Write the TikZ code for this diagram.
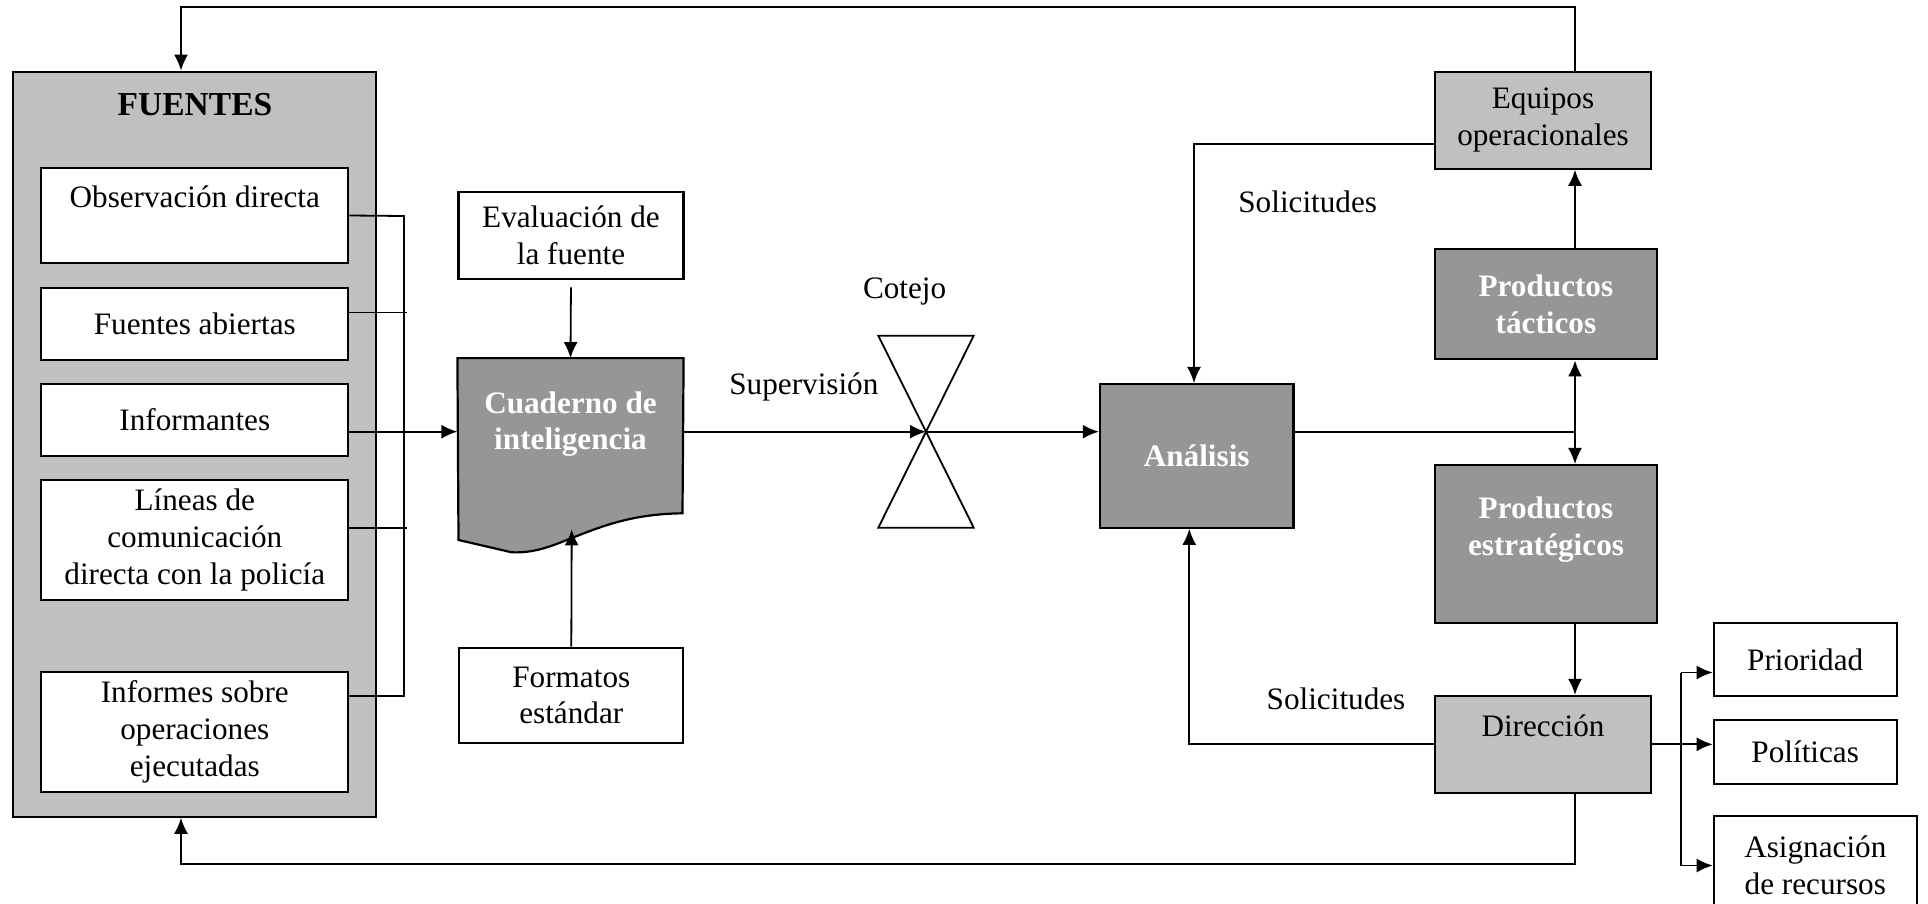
\documentclass[tikz,border=0pt]{standalone}
\usepackage{fontspec}
\setmainfont{Liberation Serif}
\usetikzlibrary{arrows.meta,backgrounds}

\definecolor{grisclaro}{HTML}{C0C0C0}
\definecolor{grisoscuro}{HTML}{969696}

\newcommand{\letra}{\fontsize{31.2}{36.7}\selectfont}

\tikzstyle{caja}=[draw, fill=white, line width=2.2pt, align=center, inner sep=0pt, font=\letra]
\tikzstyle{fuente}=[caja, minimum width=307pt]
\tikzstyle{claro}=[caja, fill=grisclaro]
\tikzstyle{oscuro}=[caja, fill=grisoscuro, text=white, font=\letra\bfseries]
\tikzstyle{texto}=[inner sep=0pt, font=\letra]
\tikzstyle{linea}=[line width=1.8pt]

\begin{document}
\begin{tikzpicture}[x=1pt, y=-1pt, >={Latex[length=16pt,width=14pt]}]
          \useasboundingbox (0,0) rectangle (1928,904);

          % fuentes
          \node (fuentes) [claro, minimum width=362.7pt, minimum height=745pt] at (194.7,444.2) {};
          \node (titulo) [texto, font=\fontsize{33.5}{40}\selectfont\bfseries] at (195,105) {FUENTES};
          \node (obs) [fuente, minimum height=95.6pt] at (194.8,215.5) {Observación directa\\\mbox{}};
          \node (abiertas) [fuente, minimum height=72.3pt] at (194.8,323.9) {Fuentes abiertas};
          \node (inf) [fuente, minimum height=72pt] at (194.8,419.9) {Informantes};
          \node (lineas) [fuente, minimum height=120pt] at (194.8,540) {Líneas de\\comunicación\\directa con la policía};
          \node (informes) [fuente, minimum height=120pt] at (194.8,731.7) {Informes sobre\\operaciones\\ejecutadas};

          % cuaderno
          \node (evaluacion) [caja, minimum width=225pt, minimum height=87.6pt] at (571,235.5) {Evaluación de\\la fuente};
          \node (cuaderno) [oscuro, draw=none, fill=none, minimum width=224pt, minimum height=130pt] at (570.5,424.2) {Cuaderno de\\inteligencia};
          \node (formatos) [caja, minimum width=224pt, minimum height=95.6pt] at (571.3,695.5) {Formatos\\estándar};
          \begin{scope}[on background layer]
            \draw [line width=2.2pt, fill=grisoscuro] (cuaderno.north west) -- (cuaderno.north east) -- (682.5,513.3)
              .. controls (630,514) and (600,527) .. (566.7,540)
              .. controls (545,549) and (530,553) .. (511.7,552.3) -- (458.5,540) -- cycle;
          \end{scope}
          \coordinate (onda) at (571.7,529.3);

          % cotejo
          \coordinate (cotejo) at (926,431.7);
          \draw [linea] (cotejo) ++(-47.7,-96) -- ++(95.4,0) -- ++(-95.4,192) -- ++(95.4,0) -- cycle;
          \node (supervision) [texto] at (803.9,386.7) {Supervisión};
          \node (lcotejo) [texto] at (904.6,291) {Cotejo};

          % analisis y productos
          \node (analisis) [oscuro, minimum width=193.6pt, minimum height=143.7pt] at (1196.7,455.9) {Análisis};
          \node (equipos) [claro, minimum width=216pt, minimum height=97pt] at (1543,120.2) {Equipos\\operacionales};
          \node (tacticos) [oscuro, minimum width=221.7pt, minimum height=110.3pt] at (1545.9,304.2) {Productos\\tácticos};
          \node (estrategicos) [oscuro, minimum width=222pt, minimum height=158.3pt] at (1546,544.2) {Productos\\estratégicos\\\mbox{}};
          \node (direccion) [claro, minimum width=216pt, minimum height=96.7pt] at (1543,744.3) {Dirección\\\mbox{}};
          \node (prioridad) [caja, minimum width=182.8pt, minimum height=72.7pt] at (1805.2,659.7) {Prioridad};
          \node (politicas) [caja, minimum width=182.8pt, minimum height=64pt] at (1805.2,752) {Políticas};
          \node (asignacion) [caja, minimum width=203pt, minimum height=99pt] at (1815.3,865.5) {Asignación\\de recursos};
          \node (sol1) [texto] at (1307.7,201.7) {Solicitudes};
          \node (sol2) [texto] at (1336,699) {Solicitudes};

          \coordinate (bus) at (404,216);
          \coordinate (busfin) at (404,696);
          \coordinate (cruce) at (1575,431.7);
          \coordinate (pedido1) at (1194,144);
          \coordinate (pedido2) at (1189.3,744.3);
          \coordinate (arriba) at (181,6.7);
          \coordinate (abajo) at (181,864.3);
          \coordinate (rama) at (1681,672.5);

          % conexiones de las fuentes
          \draw [linea] (obs.east) -- (bus) -- (busfin) -- (informes.east |- busfin);
          \draw [linea] ([yshift=11.5pt]abiertas.east) -- ++(58,0);
          \draw [linea] ([yshift=11.7pt]lineas.east) -- ++(58,0);
          \draw [linea, ->] (inf.east |- cotejo) -- (cuaderno.west |- cotejo);
          \draw [linea, ->, shorten <=7pt] (evaluacion.south) -- (cuaderno.north);
          \draw [linea, ->] (formatos.north) -- (onda);

          \draw [linea, ->] (cuaderno.east |- cotejo) -- (cotejo);
          \draw [linea, ->] (cotejo) -- (analisis.west |- cotejo);

          \draw [linea] (analisis.east |- cruce) -- (cruce);
          \draw [linea, ->] (cruce) -- (cruce |- tacticos.south);
          \draw [linea, ->] (cruce) -- (cruce |- estrategicos.north);
          \draw [linea, ->] (cruce |- tacticos.north) -- (cruce |- equipos.south);
          \draw [linea, ->] (cruce |- estrategicos.south) -- (cruce |- direccion.north);

          % realimentacion
          \draw [linea, ->] (cruce |- equipos.north) |- (arriba) -- (arriba |- fuentes.north);
          \draw [linea, ->] (cruce |- direccion.south) |- (abajo) -- (abajo |- fuentes.south);
          \draw [linea, ->] (equipos.west |- pedido1) -- (pedido1) -- (pedido1 |- analisis.north);
          \draw [linea, ->] (direccion.west) -- (pedido2) -- (pedido2 |- analisis.south);

          % salidas de la direccion
          \draw [linea, ->] (direccion.east) -- (politicas.west |- direccion.east);
          \draw [linea] (rama) -- (rama |- asignacion);
          \draw [linea, ->] (rama) -- (rama -| prioridad.west);
          \draw [linea, ->] (rama |- asignacion) -- (asignacion.west);
    \end{tikzpicture}
\end{document}
